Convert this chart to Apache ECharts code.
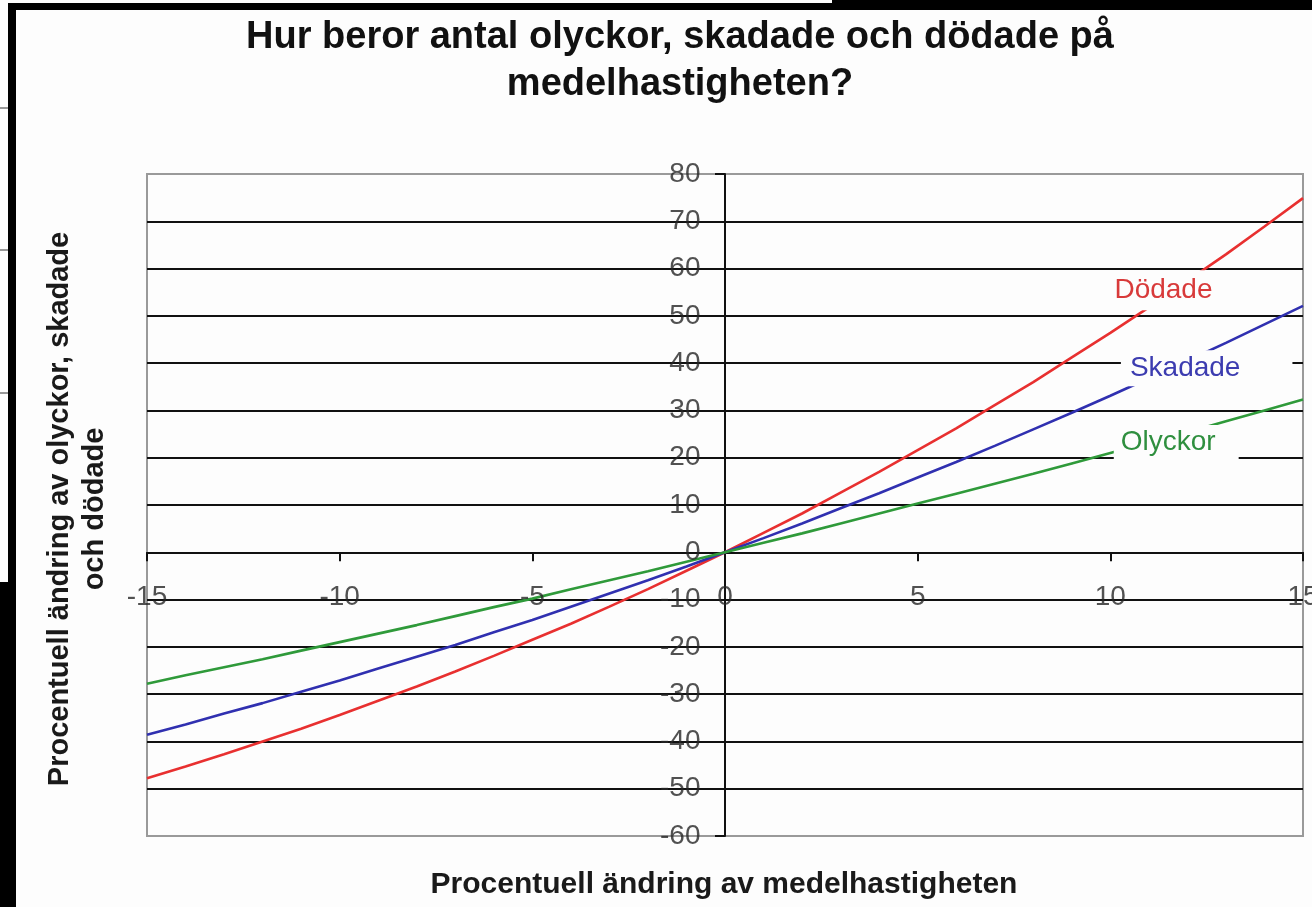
<!DOCTYPE html>
<html>
<head>
<meta charset="utf-8">
<script src="https://cdn.jsdelivr.net/npm/echarts@6/dist/echarts.min.js"></script>
<style>
html,body{margin:0;padding:0;background:#fdfdfd;}
#c{width:1312px;height:907px;}
</style>
</head>
<body>
<div id="c"></div>
<script>
const titleText = 'Hur beror antal olyckor, skadade och dödade på\nmedelhastigheten?';
const xAxisTitle = 'Procentuell ändring av medelhastigheten';
const yAxisTitle = 'Procentuell ändring av olyckor, skadade\noch dödade';

const xTicks = [-15,-10,-5,0,5,10,15];
const yTicks = [-60,-50,-40,-30,-20,-10,0,10,20,30,40,50,60,70,80];

const speedChange = [-15,-14,-13,-12,-11,-10,-9,-8,-7,-6,-5,-4,-3,-2,-1,0,1,2,3,4,5,6,7,8,9,10,11,12,13,14,15];
const dodade  = [-47.8,-45.3,-42.7,-40.0,-37.3,-34.4,-31.4,-28.4,-25.2,-21.9,-18.5,-15.1,-11.5,-7.8,-3.9,0,4.1,8.2,12.6,17.0,21.6,26.2,31.1,36.0,41.2,46.4,51.8,57.4,63.0,68.9,74.9];
const skadade = [-38.6,-36.4,-34.1,-31.9,-29.5,-27.1,-24.6,-22.1,-19.6,-16.9,-14.3,-11.5,-8.7,-5.9,-3.0,0,3.0,6.1,9.3,12.5,15.8,19.1,22.5,26.0,29.5,33.1,36.8,40.5,44.3,48.2,52.1];
const olyckor = [-27.8,-26.0,-24.3,-22.6,-20.8,-19.0,-17.2,-15.4,-13.5,-11.6,-9.8,-7.8,-5.9,-4.0,-2.0,0,2.0,4.0,6.1,8.2,10.3,12.4,14.5,16.6,18.8,21.0,23.2,25.4,27.7,30.0,32.3];

const seriesNames = ['Dödade','Skadade','Olyckor'];
const labelAnchors = [[11.34,55.4],[12.5,38.9],[11.71,23.3]];

const FONT = '"Liberation Sans", Arial, sans-serif';
const pairs = arr => speedChange.map((x,i)=>[x, arr[i]]);

const chart = echarts.init(document.getElementById('c'), null, {renderer:'canvas'});

const splitColors = ['#9a9a9a'];
for (let i=0;i<13;i++) splitColors.push('#111');
splitColors.push('#9a9a9a');

function lineSeries(name, data, color, labelColor, anchor, padding) {
  return {
    name: name,
    type: 'line',
    data: pairs(data),
    showSymbol: false,
    symbol: 'none',
    smooth: false,
    lineStyle: {color: color, width: 2.6},
    z: 3,
    markPoint: {
      symbol: 'circle',
      symbolSize: 1,
      itemStyle: {color: 'rgba(0,0,0,0)'},
      z: 6,
      data: [{coord: anchor, value: name}],
      label: {
        show: true,
        position: 'inside',
        formatter: name,
        color: labelColor,
        fontFamily: FONT,
        fontSize: 28,
        backgroundColor: '#fdfdfd',
        padding: padding
      }
    }
  };
}

function tickLabelSeries(points, position, distance) {
  return {
    type: 'scatter',
    data: points,
    symbol: 'circle',
    symbolSize: 1,
    itemStyle: {color: 'rgba(0,0,0,0)'},
    silent: true,
    clip: false,
    z: 4,
    label: {
      show: true,
      position: position,
      distance: distance,
      formatter: p => String(p.data.v),
      fontFamily: FONT,
      fontSize: 28,
      color: '#262626'
    }
  };
}

chart.setOption({
  backgroundColor: '#fdfdfd',
  animation: false,
  title: {
    text: titleText,
    left: 680,
    top: 14,
    textAlign: 'center',
    padding: 0,
    textStyle: {fontFamily: FONT, fontWeight: 'bold', fontSize: 38, lineHeight: 47, color: '#111'}
  },
  grid: {
    left: 147, right: 9, top: 174, bottom: 71,
    outerBoundsMode: 'none',
    containLabel: false,
    show: true, borderColor: '#9a9a9a', borderWidth: 2, backgroundColor: 'transparent'
  },
  xAxis: {
    type: 'value',
    min: -15, max: 15, interval: 5,
    axisLine: {show: true, onZero: true, lineStyle: {color: '#111', width: 2}},
    axisTick: {show: true, inside: false, length: 9, lineStyle: {color: '#111', width: 2}},
    axisLabel: {show: false},
    splitLine: {show: false}
  },
  yAxis: {
    type: 'value',
    min: -60, max: 80, interval: 10,
    axisLine: {show: true, onZero: true, lineStyle: {color: '#111', width: 2}},
    axisTick: {show: true, inside: false, length: 10, lineStyle: {color: '#111', width: 2}},
    axisLabel: {show: false},
    splitLine: {show: true, lineStyle: {color: splitColors, width: 2}}
  },
  graphic: [
    {type:'rect', shape:{x:8, y:3, width:1304, height:7}, style:{fill:'#000'}, z:100},
    {type:'rect', shape:{x:832, y:0, width:480, height:10}, style:{fill:'#000'}, z:100},
    {type:'rect', shape:{x:8, y:3, width:8, height:904}, style:{fill:'#000'}, z:100},
    {type:'rect', shape:{x:0, y:582, width:16, height:325}, style:{fill:'#000'}, z:100},
    {type:'line', shape:{x1:0, y1:108, x2:8, y2:108}, style:{stroke:'#333', lineWidth:1}, z:100},
    {type:'line', shape:{x1:0, y1:250, x2:8, y2:250}, style:{stroke:'#333', lineWidth:1}, z:100},
    {type:'line', shape:{x1:0, y1:393, x2:8, y2:393}, style:{stroke:'#333', lineWidth:1}, z:100},
    {type:'text', x:724, y:885, z:50,
      style:{text:xAxisTitle, font:'bold 30px ' + FONT, fill:'#1a1a1a', align:'center', verticalAlign:'middle'}},
    {type:'text', x:77, y:509, rotation: Math.PI/2, z:50,
      style:{text:yAxisTitle, font:'bold 29px ' + FONT, fill:'#1a1a1a', align:'center', verticalAlign:'middle', lineHeight:35}}
  ],
  series: [
    lineSeries(seriesNames[0], dodade, '#e83030', '#d83a3a', labelAnchors[0], [6, 2, 6, 5]),
    lineSeries(seriesNames[1], skadade, '#3030b0', '#3c3cb0', labelAnchors[1], [4, 52, 4, 9]),
    lineSeries(seriesNames[2], olyckor, '#2f9a3a', '#2f8f3f', labelAnchors[2], [3, 23, 3, 7]),
    tickLabelSeries(yTicks.map(v => ({value: [0, v], v: v})), 'left', 24),
    tickLabelSeries(xTicks.map(v => ({value: [v, 0], v: v})), 'bottom', 30)
  ]
});
</script>
</body>
</html>
